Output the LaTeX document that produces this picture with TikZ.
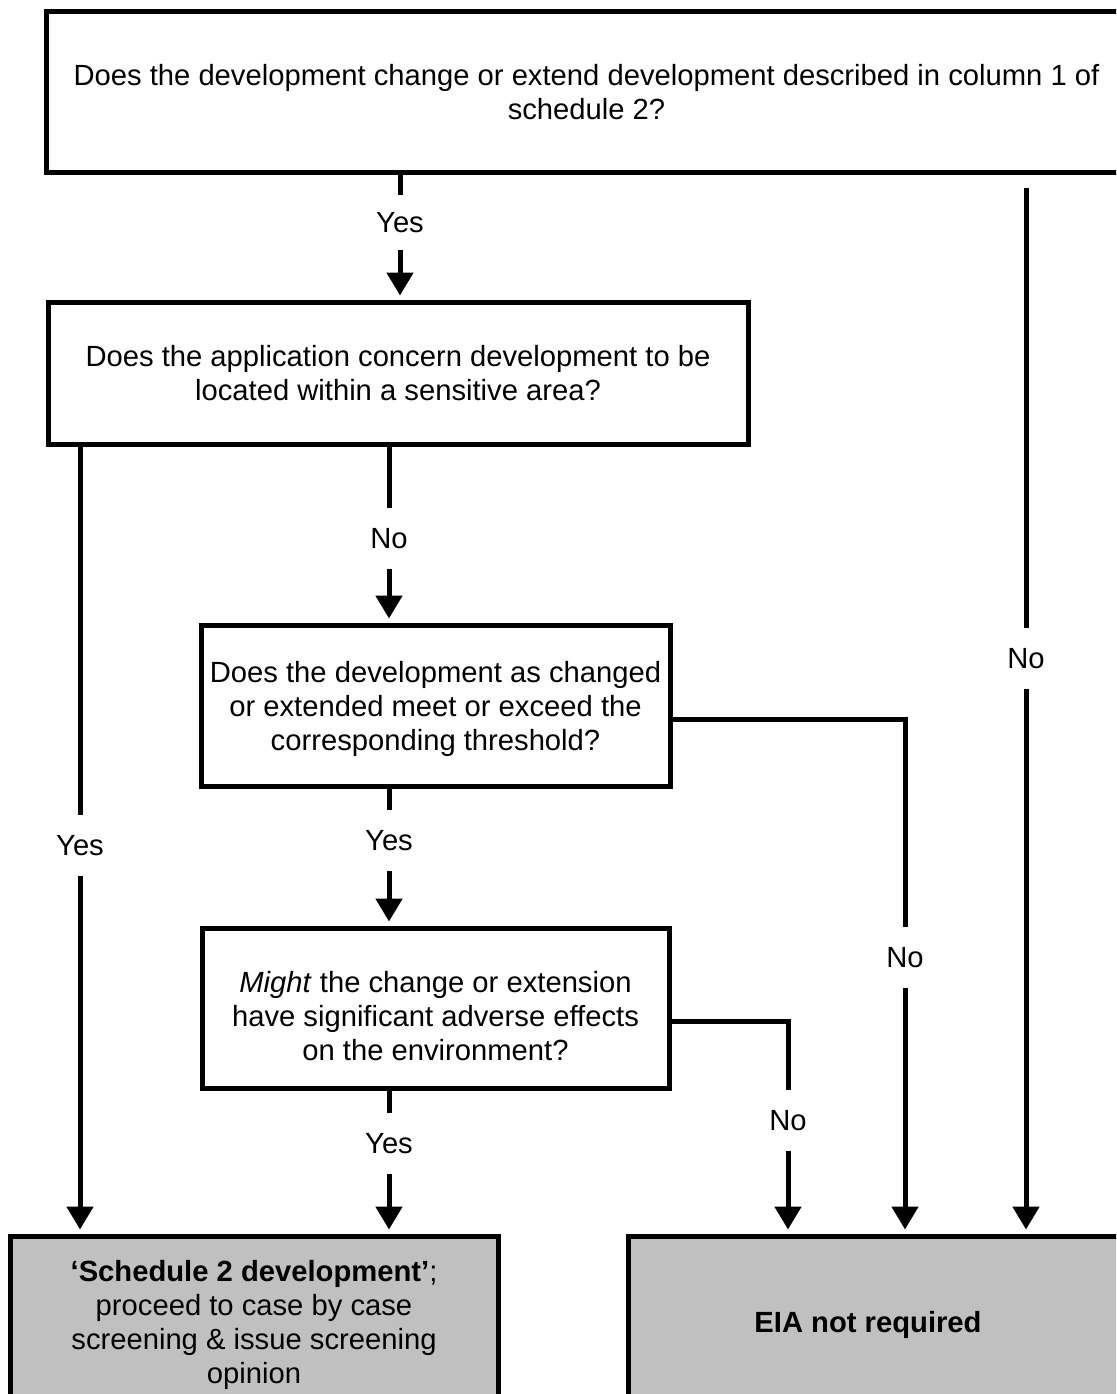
\documentclass[tikz,border=0pt]{standalone}
\usepackage{fontspec}
\setmainfont{Liberation Sans}
\usetikzlibrary{arrows.meta}
\definecolor{boxgray}{RGB}{192,192,192}
\begin{document}
\begin{tikzpicture}[x=1pt,y=-1pt,
  txt/.style={font=\fontsize{29.2}{34}\selectfont},
  box/.style={txt, draw=black, line width=5pt, inner sep=0pt, align=center},
  endbox/.style={box, fill=boxgray},
  arr/.style={line width=5pt, -{Triangle[width=26pt,length=23pt]}, shorten >=4pt},
  lab/.style={txt, fill=white, inner xsep=3pt, inner ysep=20pt, text height=21pt, text depth=0pt}
]
\useasboundingbox (0,0) rectangle (1116,1394);
\clip (0,0) rectangle (1116,1394);

% boxes
\node[box, minimum width=1080pt, minimum height=161pt] (q1) at (586.5,92)
  {Does the development change or extend development described in column 1 of\\schedule 2?};
\node[box, minimum width=700pt, minimum height=142pt] (q2) at (398,373)
  {Does the application concern development to be\\located within a sensitive area?};
\node[box, minimum width=469pt, minimum height=161pt] (q3) at (435.5,705.5)
  {\rule{0pt}{29pt}Does the development as changed\\or extended meet or exceed the\\corresponding threshold?};
\node[box, minimum width=467pt, minimum height=160pt] (q4) at (435.5,1008)
  {\rule{0pt}{37pt}\textit{Might} the change or extension\\have significant adverse effects\\on the environment?};
\node[endbox, minimum width=488pt, minimum height=178pt] (r1) at (254,1325)
  {\textbf{‘Schedule 2 development’};\\proceed to case by case\\screening \& issue screening\\opinion};
\node[endbox, minimum width=520pt, minimum height=178pt] (r2) at (888,1325) {};
\node[txt, font=\fontsize{29.2}{34}\selectfont\bfseries] (r2t) at (868,1325) {EIA not required};

% helper coordinates
\coordinate (xa) at (400,0);
\coordinate (xl) at (80,0);
\coordinate (xm) at (389,0);
\coordinate (xn1) at (905,0);
\coordinate (xn2) at (788,0);
\coordinate (xr) at (1026,0);
\coordinate (y3) at (0,719);
\coordinate (y4) at (0,1021);

% connectors
\draw[arr] (q1.south -| xa) -- (q2.north -| xa);
\draw[arr] (q2.south -| xl) -- (r1.north -| xl);
\draw[arr] (q2.south -| xm) -- (q3.north -| xm);
\draw[arr] (q3.south -| xm) -- (q4.north -| xm);
\draw[arr] (q4.south -| xm) -- (r1.north -| xm);
\draw[arr] (q3.east |- y3) -| (r2.north -| xn1);
\draw[arr] (q4.east |- y4) -| (r2.north -| xn2);
\draw[arr, shorten <=12.5pt] (q1.south -| xr) -- (r2.north -| xr);

% labels
\node[lab, inner ysep=17pt] (l1) at (400,222) {Yes};
\node[lab] (l2) at (389,538) {No};
\node[lab] (l3) at (389,840) {Yes};
\node[lab] (l4) at (389,1143) {Yes};
\node[lab] (l5) at (80,845) {Yes};
\node[lab] (l6) at (905,957) {No};
\node[lab] (l7) at (788,1120) {No};
\node[lab] (l8) at (1026,658) {No};
\end{tikzpicture}
\end{document}
